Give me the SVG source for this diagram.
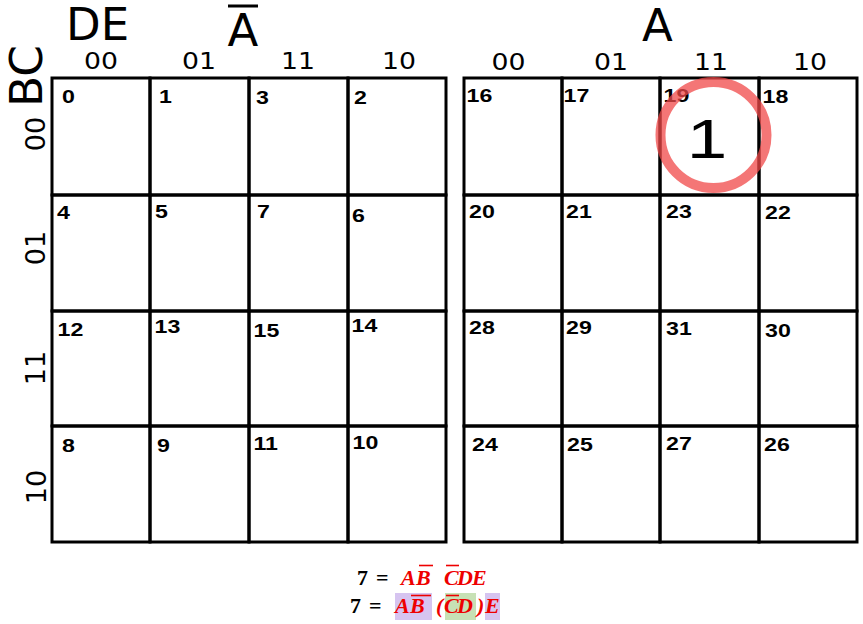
<svg xmlns="http://www.w3.org/2000/svg" width="863" height="624" viewBox="0 0 863 624">
<style>
.cell{fill:none;stroke:#000;stroke-width:3}
.n{font-family:"Liberation Sans",Arial,sans-serif;font-weight:bold;font-size:19px;fill:#000}
.h{font-family:"DejaVu Sans",sans-serif;font-size:23px;fill:#000;text-anchor:middle}
.r{font-family:"DejaVu Sans",sans-serif;font-size:27px;fill:#000;text-anchor:middle}
.big{font-family:"DejaVu Sans",sans-serif;font-size:45px;fill:#000}
.m{font-family:"Liberation Serif","Times New Roman",serif;font-size:22px;font-weight:bold;fill:#000}
.mv{fill:#ee0000;font-style:italic}
.bar{stroke:#ee0000;stroke-width:1.6}
</style>
<rect width="863" height="624" fill="#fff"/>
<g id="labels">
<text class="big" x="66" y="40">DE</text>
<text class="big" x="243" y="46" text-anchor="middle">A</text>
<rect x="228" y="4.5" width="30" height="3"/>
<text class="big" x="657.5" y="41" text-anchor="middle">A</text>
<text class="big" transform="translate(42,76) rotate(-90)" text-anchor="middle" textLength="62" lengthAdjust="spacingAndGlyphs" font-size="46">BC</text>
<text class="h" x="101" y="69" textLength="34" lengthAdjust="spacingAndGlyphs">00</text>
<text class="h" x="199" y="69" textLength="34" lengthAdjust="spacingAndGlyphs">01</text>
<text class="h" x="298" y="69" textLength="34" lengthAdjust="spacingAndGlyphs">11</text>
<text class="h" x="399" y="69" textLength="34" lengthAdjust="spacingAndGlyphs">10</text>
<text class="h" x="508.5" y="70" textLength="34" lengthAdjust="spacingAndGlyphs">00</text>
<text class="h" x="611" y="70" textLength="34" lengthAdjust="spacingAndGlyphs">01</text>
<text class="h" x="711" y="70" textLength="34" lengthAdjust="spacingAndGlyphs">11</text>
<text class="h" x="810" y="70" textLength="34" lengthAdjust="spacingAndGlyphs">10</text>
<text class="r" transform="translate(45,134) rotate(-90)">00</text>
<text class="r" transform="translate(45,248) rotate(-90)">01</text>
<text class="r" transform="translate(45,368) rotate(-90)">11</text>
<text class="r" transform="translate(46,487) rotate(-90)">10</text>
</g>
<g id="left-map">
<g id="c0"><rect class="cell" x="52" y="78" width="98" height="117"/><text class="n" transform="translate(62,103) scale(1.22,1)">0</text></g>
<g id="c1"><rect class="cell" x="150" y="78" width="99" height="117"/><text class="n" transform="translate(159,103) scale(1.22,1)">1</text></g>
<g id="c3"><rect class="cell" x="249" y="78" width="99" height="117"/><text class="n" transform="translate(256,104) scale(1.22,1)">3</text></g>
<g id="c2"><rect class="cell" x="348" y="78" width="98" height="117"/><text class="n" transform="translate(354,104) scale(1.22,1)">2</text></g>
<g id="c4"><rect class="cell" x="52" y="195" width="98" height="116"/><text class="n" transform="translate(57,219) scale(1.22,1)">4</text></g>
<g id="c5"><rect class="cell" x="150" y="195" width="99" height="116"/><text class="n" transform="translate(155,218) scale(1.22,1)">5</text></g>
<g id="c7"><rect class="cell" x="249" y="195" width="99" height="116"/><text class="n" transform="translate(257,218) scale(1.22,1)">7</text></g>
<g id="c6"><rect class="cell" x="348" y="195" width="98" height="116"/><text class="n" transform="translate(352,222) scale(1.22,1)">6</text></g>
<g id="c12"><rect class="cell" x="52" y="311" width="98" height="115"/><text class="n" transform="translate(57.5,336) scale(1.22,1)">12</text></g>
<g id="c13"><rect class="cell" x="150" y="311" width="99" height="115"/><text class="n" transform="translate(154.5,333) scale(1.22,1)">13</text></g>
<g id="c15"><rect class="cell" x="249" y="311" width="99" height="115"/><text class="n" transform="translate(253.5,337) scale(1.22,1)">15</text></g>
<g id="c14"><rect class="cell" x="348" y="311" width="98" height="115"/><text class="n" transform="translate(351.5,332) scale(1.22,1)">14</text></g>
<g id="c8"><rect class="cell" x="52" y="426" width="98" height="116"/><text class="n" transform="translate(62,452) scale(1.22,1)">8</text></g>
<g id="c9"><rect class="cell" x="150" y="426" width="99" height="116"/><text class="n" transform="translate(157,452) scale(1.22,1)">9</text></g>
<g id="c11"><rect class="cell" x="249" y="426" width="99" height="116"/><text class="n" transform="translate(253.5,450) scale(1.22,1)">11</text></g>
<g id="c10"><rect class="cell" x="348" y="426" width="98" height="116"/><text class="n" transform="translate(352.5,449) scale(1.22,1)">10</text></g>
</g>
<g id="right-map">
<g id="c16"><rect class="cell" x="464" y="78" width="98" height="117"/><text class="n" transform="translate(466.5,102) scale(1.22,1)">16</text></g>
<g id="c17"><rect class="cell" x="562" y="78" width="98" height="117"/><text class="n" transform="translate(563.5,102) scale(1.22,1)">17</text></g>
<g id="c19"><rect class="cell" x="660" y="78" width="99" height="117"/><text class="n" transform="translate(663.5,102) scale(1.22,1)">19</text></g>
<g id="c18"><rect class="cell" x="759" y="78" width="98" height="117"/><text class="n" transform="translate(762.5,103) scale(1.22,1)">18</text></g>
<g id="c20"><rect class="cell" x="464" y="195" width="98" height="116"/><text class="n" transform="translate(469,218) scale(1.22,1)">20</text></g>
<g id="c21"><rect class="cell" x="562" y="195" width="98" height="116"/><text class="n" transform="translate(566,218) scale(1.22,1)">21</text></g>
<g id="c23"><rect class="cell" x="660" y="195" width="99" height="116"/><text class="n" transform="translate(666,218) scale(1.22,1)">23</text></g>
<g id="c22"><rect class="cell" x="759" y="195" width="98" height="116"/><text class="n" transform="translate(765,219) scale(1.22,1)">22</text></g>
<g id="c28"><rect class="cell" x="464" y="311" width="98" height="115"/><text class="n" transform="translate(469,334) scale(1.22,1)">28</text></g>
<g id="c29"><rect class="cell" x="562" y="311" width="98" height="115"/><text class="n" transform="translate(566,334) scale(1.22,1)">29</text></g>
<g id="c31"><rect class="cell" x="660" y="311" width="99" height="115"/><text class="n" transform="translate(666,335) scale(1.22,1)">31</text></g>
<g id="c30"><rect class="cell" x="759" y="311" width="98" height="115"/><text class="n" transform="translate(765,337) scale(1.22,1)">30</text></g>
<g id="c24"><rect class="cell" x="464" y="426" width="98" height="116"/><text class="n" transform="translate(472,451) scale(1.22,1)">24</text></g>
<g id="c25"><rect class="cell" x="562" y="426" width="98" height="116"/><text class="n" transform="translate(567,451) scale(1.22,1)">25</text></g>
<g id="c27"><rect class="cell" x="660" y="426" width="99" height="116"/><text class="n" transform="translate(666,450) scale(1.22,1)">27</text></g>
<g id="c26"><rect class="cell" x="759" y="426" width="98" height="116"/><text class="n" transform="translate(764,451) scale(1.22,1)">26</text></g>
</g>
<g id="mark">
<circle cx="713.5" cy="135" r="53" fill="none" stroke="#f04848" stroke-opacity="0.75" stroke-width="10"/>
<text transform="translate(707,158) scale(1.3,1)" text-anchor="middle" font-family="Liberation Sans,Arial,sans-serif" font-size="56" fill="#000">1</text>
</g>
<g id="formula">
<rect x="395" y="593" width="37" height="27" fill="#d6c4f0"/>
<rect x="445" y="593" width="31" height="27" fill="#c7e1b5"/>
<rect x="485" y="593" width="15" height="27" fill="#d6c4f0"/>
<text class="m" y="585"><tspan x="357">7</tspan><tspan x="376">=</tspan><tspan class="mv" x="401">A</tspan><tspan class="mv" x="416">B</tspan><tspan class="mv" x="444">C</tspan><tspan class="mv" x="457">D</tspan><tspan class="mv" x="472">E</tspan></text>
<line class="bar" x1="419" y1="565.5" x2="433" y2="565.5"/>
<line class="bar" x1="446" y1="565.5" x2="459" y2="565.5"/>
<text class="m" y="613"><tspan x="350">7</tspan><tspan x="369">=</tspan><tspan class="mv" x="395">A</tspan><tspan class="mv" x="410">B</tspan><tspan class="mv" x="436" font-style="normal">(</tspan><tspan class="mv" x="444">C</tspan><tspan class="mv" x="457">D</tspan><tspan class="mv" x="477" font-style="normal">)</tspan><tspan class="mv" x="485">E</tspan></text>
<line class="bar" x1="411" y1="595.5" x2="431" y2="595.5"/>
<line class="bar" x1="446" y1="595.5" x2="459" y2="595.5"/>
</g>
</svg>
